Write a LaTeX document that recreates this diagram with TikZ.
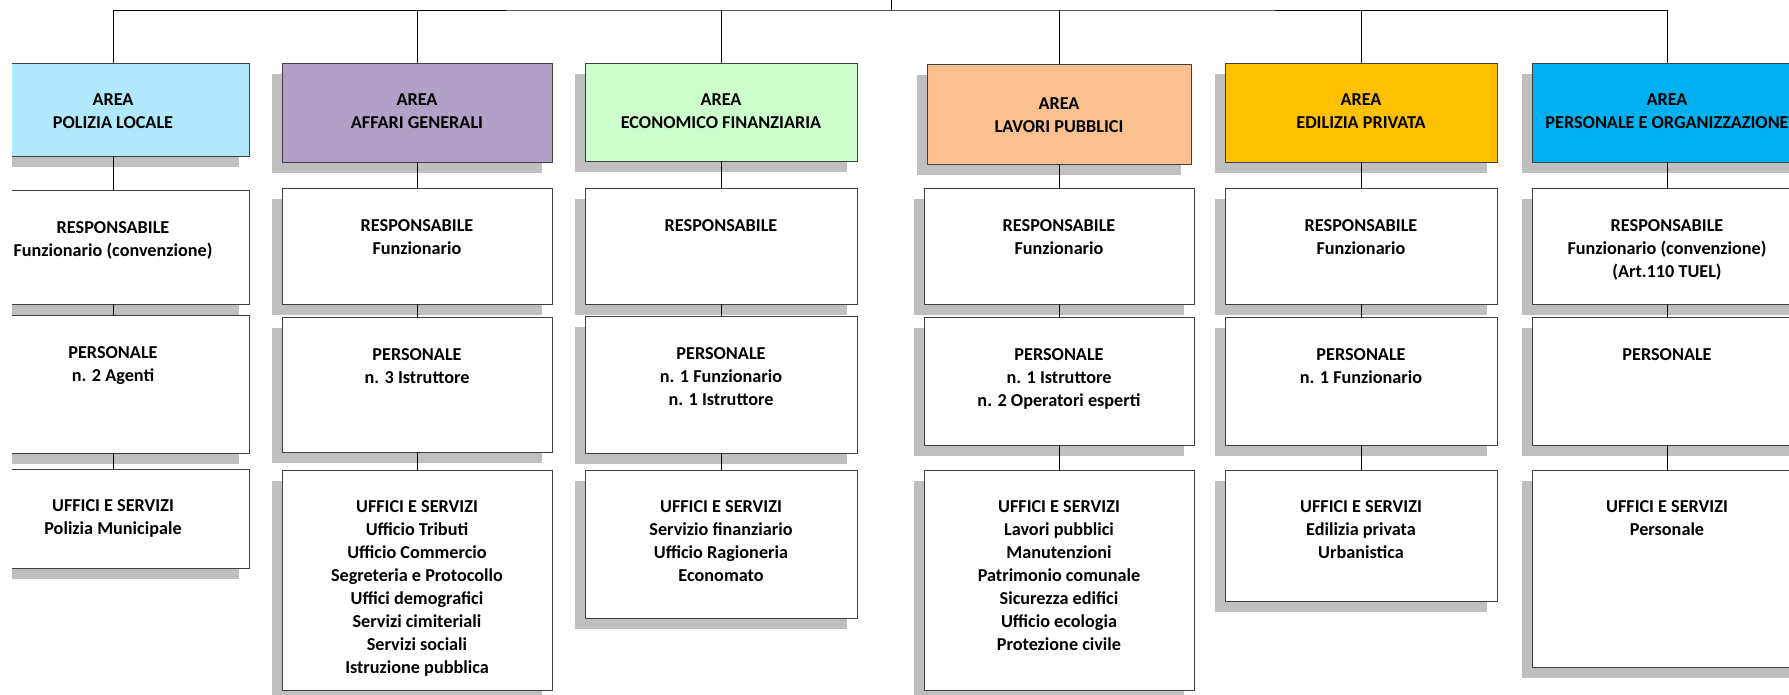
\documentclass[tikz,border=0pt]{standalone}
\usepackage{fontspec}
\setmainfont{Carlito}
\usetikzlibrary{shadows}
\definecolor{areapol}{RGB}{176,232,252}
\definecolor{areaaff}{RGB}{177,160,199}
\definecolor{areaeco}{RGB}{204,255,204}
\definecolor{arealav}{RGB}{250,192,144}
\definecolor{areaedi}{RGB}{255,192,0}
\definecolor{areaper}{RGB}{0,176,240}
\definecolor{boxshade}{RGB}{191,191,191}
\definecolor{boxline}{RGB}{64,64,64}

\begin{document}
\begin{tikzpicture}[x=1pt,y=-1pt,
  box/.style={draw=boxline,line width=0.9pt,inner sep=0pt,fill=white,
    minimum width=270pt,
    drop shadow={shadow xshift=-10pt,shadow yshift=-11pt,fill=boxshade,opacity=1}},
  txt/.style={anchor=north,inner sep=0pt,align=center,
    font=\bfseries\fontsize{18.2}{23}\selectfont},
  link/.style={line width=0.9pt}]
  \useasboundingbox (0,0) rectangle (1789,694);
  \clip (12,0) rectangle (1789,694);

  \coordinate (root) at (891,0);
  \coordinate (bar) at (891,10);

  % area polizia locale
  \node[box,fill=areapol,minimum width=272pt,minimum height=93pt] (a1) at (113,109.5) {};
  \node[box,minimum width=272pt,minimum height=114pt] (r1) at (113,247) {};
  \node[box,minimum width=272pt,minimum height=138pt] (p1) at (113,384) {};
  \node[box,minimum width=272pt,minimum height=99pt] (u1) at (113,518.5) {};
  \node[txt] (a1t) at ([yshift=-31pt]a1.north) {AREA\\POLIZIA LOCALE};
  \node[txt] (r1t) at ([yshift=-32pt]r1.north) {RESPONSABILE\\Funzionario (convenzione)};
  \node[txt] (p1t) at ([yshift=-32pt]p1.north) {PERSONALE\\n. 2 Agenti};
  \node[txt] (u1t) at ([yshift=-31pt]u1.north) {UFFICI E SERVIZI\\Polizia Municipale};

  % area affari generali
  \node[box,fill=areaaff,minimum height=99pt] (a2) at (417,112.5) {};
  \node[box,minimum height=116pt] (r2) at (417,246) {};
  \node[box,minimum height=135pt] (p2) at (417,384.5) {};
  \node[box,minimum height=220pt] (u2) at (417,580) {};
  \node[txt] (a2t) at ([yshift=-31pt]a2.north) {AREA\\AFFARI GENERALI};
  \node[txt] (r2t) at ([yshift=-32pt]r2.north) {RESPONSABILE\\Funzionario};
  \node[txt] (p2t) at ([yshift=-32pt]p2.north) {PERSONALE\\n. 3 Istruttore};
  \node[txt] (u2t) at ([yshift=-31pt]u2.north) {UFFICI E SERVIZI\\Ufficio Tributi\\Ufficio Commercio\\Segreteria e Protocollo\\Uffici demografici\\Servizi cimiteriali\\Servizi sociali\\Istruzione pubblica};

  % area economico finanziaria
  \node[box,fill=areaeco,minimum width=272pt,minimum height=98pt] (a3) at (721,112) {};
  \node[box,minimum width=272pt,minimum height=116pt] (r3) at (721,246) {};
  \node[box,minimum width=272pt,minimum height=137pt] (p3) at (721,384.5) {};
  \node[box,minimum width=272pt,minimum height=148pt] (u3) at (721,544) {};
  \node[txt] (a3t) at ([yshift=-31pt]a3.north) {AREA\\ECONOMICO FINANZIARIA};
  \node[txt] (r3t) at ([yshift=-32pt]r3.north) {RESPONSABILE};
  \node[txt] (p3t) at ([yshift=-32pt]p3.north) {PERSONALE\\n. 1 Funzionario\\n. 1 Istruttore};
  \node[txt] (u3t) at ([yshift=-31pt]u3.north) {UFFICI E SERVIZI\\Servizio finanziario\\Ufficio Ragioneria\\Economato};

  % area lavori pubblici
  \node[box,fill=arealav,minimum width=264pt,minimum height=100pt] (a4) at (1059,114) {};
  \node[box,minimum height=116pt] (r4) at (1059,246) {};
  \node[box,minimum height=128pt] (p4) at (1059,381) {};
  \node[box,minimum height=220pt] (u4) at (1059,580) {};
  \node[txt] (a4t) at ([yshift=-34pt]a4.north) {AREA\\LAVORI PUBBLICI};
  \node[txt] (r4t) at ([yshift=-32pt]r4.north) {RESPONSABILE\\Funzionario};
  \node[txt] (p4t) at ([yshift=-32pt]p4.north) {PERSONALE\\n. 1 Istruttore\\n. 2 Operatori esperti};
  \node[txt] (u4t) at ([yshift=-31pt]u4.north) {UFFICI E SERVIZI\\Lavori pubblici\\Manutenzioni\\Patrimonio comunale\\Sicurezza edifici\\Ufficio ecologia\\Protezione civile};

  % area edilizia privata
  \node[box,fill=areaedi,minimum width=272pt,minimum height=99pt] (a5) at (1361,112.5) {};
  \node[box,minimum width=272pt,minimum height=116pt] (r5) at (1361,246) {};
  \node[box,minimum width=272pt,minimum height=128pt] (p5) at (1361,381) {};
  \node[box,minimum width=272pt,minimum height=131pt] (u5) at (1361,535.5) {};
  \node[txt] (a5t) at ([yshift=-31pt]a5.north) {AREA\\EDILIZIA PRIVATA};
  \node[txt] (r5t) at ([yshift=-32pt]r5.north) {RESPONSABILE\\Funzionario};
  \node[txt] (p5t) at ([yshift=-32pt]p5.north) {PERSONALE\\n. 1 Funzionario};
  \node[txt] (u5t) at ([yshift=-31pt]u5.north) {UFFICI E SERVIZI\\Edilizia privata\\Urbanistica};

  % area personale e organizzazione
  \node[box,fill=areaper,minimum height=99pt] (a6) at (1667,112.5) {};
  \node[box,minimum height=116pt] (r6) at (1667,246) {};
  \node[box,minimum height=128pt] (p6) at (1667,381) {};
  \node[box,minimum height=197pt] (u6) at (1667,568.5) {};
  \node[txt] (a6t) at ([yshift=-31pt]a6.north) {AREA\\PERSONALE E ORGANIZZAZIONE};
  \node[txt] (r6t) at ([yshift=-32pt]r6.north) {RESPONSABILE\\Funzionario (convenzione)\\(Art.110 TUEL)};
  \node[txt] (p6t) at ([yshift=-32pt]p6.north) {PERSONALE};
  \node[txt] (u6t) at ([yshift=-31pt]u6.north) {UFFICI E SERVIZI\\Personale};

  % links
  \draw[link] (bar) -- (root);
  \draw[link] (a1.north) |- (bar) -| (a6.north);
  \foreach \c in {2,...,5}
    \draw[link] (a\c.north) -- (a\c.north |- bar);
  \foreach \c in {1,...,6}
    \draw[link] (a\c.south) -- (r\c.north) (r\c.south) -- (p\c.north)
      (p\c.south) -- (u\c.north);
\end{tikzpicture}
\end{document}
